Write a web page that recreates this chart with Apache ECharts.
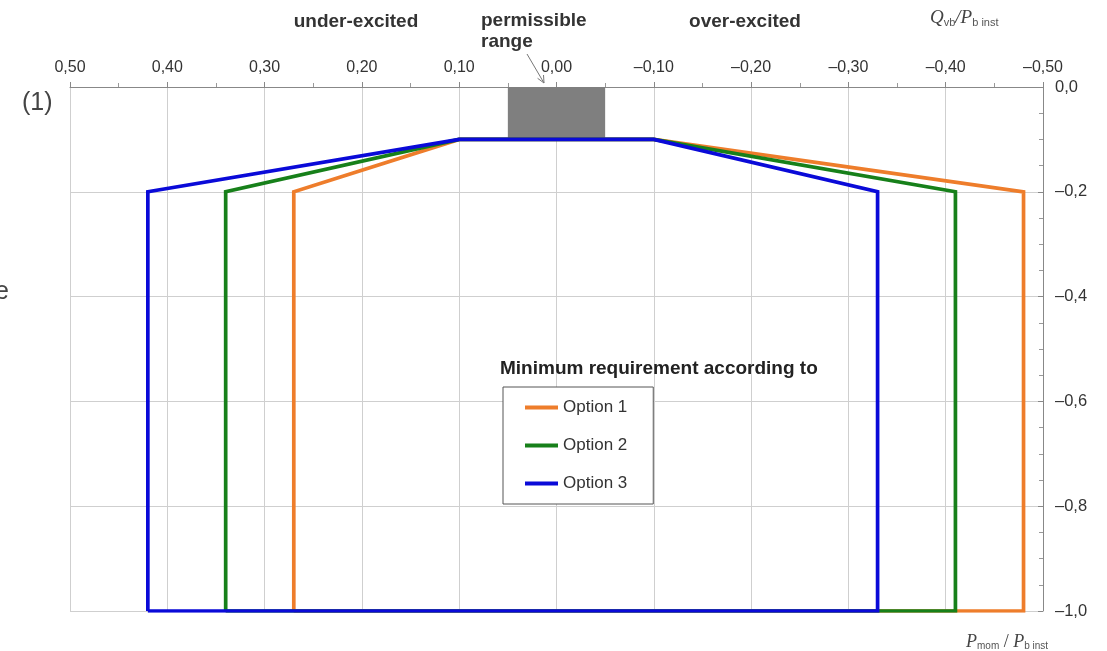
<!DOCTYPE html>
<html>
<head>
<meta charset="utf-8">
<script src="https://cdn.jsdelivr.net/npm/echarts@6/dist/echarts.min.js"></script>
<style>
html,body{margin:0;padding:0;background:#fff;}
#chart{width:1107px;height:651px;}
</style>
</head>
<body>
<div id="chart"></div>
<script>
// ---- data (Q/P on x, P_mom/P_b inst on y) ----
var seriesNames = ['Option 1', 'Option 2', 'Option 3'];
var option1 = [[0.27, -1.0], [0.27, -0.2], [0.10, -0.1], [-0.10, -0.1], [-0.48, -0.2], [-0.48, -1.0], [0.27, -1.0]];
var option2 = [[0.34, -1.0], [0.34, -0.2], [0.10, -0.1], [-0.10, -0.1], [-0.41, -0.2], [-0.41, -1.0], [0.34, -1.0]];
var option3 = [[0.42, -1.0], [0.42, -0.2], [0.10, -0.1], [-0.10, -0.1], [-0.33, -0.2], [-0.33, -1.0], [0.42, -1.0]];
var permissibleRange = [[0.05, 0.0], [-0.05, -0.1]];
var xRange = [-0.5, 0.5];
var yRange = [-1.0, 0.0];
var seriesColors = ['#ee7d2b', '#17801a', '#0a0ad8'];

function fmt(v, d) {
  var s = Math.abs(v) < 1e-9 ? (0).toFixed(d) : v.toFixed(d);
  return s.replace('.', ',').replace('-', '\u2013');
}

var font = '"Liberation Sans", Arial, sans-serif';
var chart = echarts.init(document.getElementById('chart'), null, {renderer: 'canvas'});

var allData = [option1, option2, option3];
var series = allData.map(function (d, i) {
  return {
    name: seriesNames[i],
    type: 'line',
    data: d,
    symbol: 'none',
    lineStyle: {color: seriesColors[i], width: 3.7, join: 'miter', cap: 'butt'},
    itemStyle: {color: seriesColors[i]},
    z: 3 + i,
    animation: false
  };
});
series.unshift({
  name: 'range',
  type: 'line',
  data: [],
  symbol: 'none',
  z: 2,
  animation: false,
  markArea: {
    silent: true,
    itemStyle: {color: '#7f7f7f'},
    data: [[{coord: permissibleRange[0]}, {coord: permissibleRange[1]}]]
  }
});

chart.setOption({
  animation: false,
  backgroundColor: '#fff',
  grid: {left: 70, right: 64, top: 87, bottom: 40, containLabel: false},
  xAxis: {
    type: 'value',
    position: 'top',
    inverse: true,
    min: xRange[0],
    max: xRange[1],
    interval: 0.1,
    axisLine: {show: true, onZero: false, lineStyle: {color: '#888', width: 1}},
    axisTick: {show: true, inside: false, length: 5, lineStyle: {color: '#888'}},
    minorTick: {show: true, splitNumber: 2, length: 4, lineStyle: {color: '#999'}},
    splitLine: {show: true, lineStyle: {color: '#cfcfcf', width: 1}},
    axisLabel: {
      color: '#333', fontSize: 16, fontFamily: font, margin: 11,
      formatter: function (v) { return fmt(v, 2); }
    }
  },
  yAxis: {
    type: 'value',
    position: 'right',
    min: yRange[0],
    max: yRange[1],
    interval: 0.2,
    axisLine: {show: true, onZero: false, lineStyle: {color: '#888', width: 1}},
    axisTick: {show: true, inside: true, length: 5, lineStyle: {color: '#888'}},
    minorTick: {show: true, splitNumber: 4, length: 4, lineStyle: {color: '#999'}},
    splitLine: {show: true, lineStyle: {color: '#cfcfcf', width: 1}},
    axisLabel: {
      color: '#333', fontSize: 16.5, fontFamily: font, margin: 12,
      formatter: function (v) { return fmt(v, 1); }
    }
  },
  legend: {
    show: true,
    data: seriesNames,
    orient: 'vertical',
    left: 503,
    top: 387,
    icon: 'rect',
    itemWidth: 33,
    itemHeight: 4,
    itemGap: 21,
    padding: [12, 26, 12, 22],
    borderColor: '#555',
    borderWidth: 1,
    backgroundColor: '#fff',
    textStyle: {color: '#333', fontSize: 17, fontFamily: font}
  },
  graphic: [
    {type: 'text', x: 500, y: 369, z: 10,
      style: {text: 'Minimum requirement according to', font: 'bold 19px ' + font, fill: '#222', verticalAlign: 'middle'}},
    {type: 'text', x: 356, y: 22, z: 10,
      style: {text: 'under-excited', font: 'bold 19px ' + font, fill: '#333', align: 'center', verticalAlign: 'middle'}},
    {type: 'text', x: 481, y: 21, z: 10,
      style: {text: 'permissible', font: 'bold 19px ' + font, fill: '#333', align: 'left', verticalAlign: 'middle'}},
    {type: 'text', x: 481, y: 42, z: 10,
      style: {text: 'range', font: 'bold 19px ' + font, fill: '#333', align: 'left', verticalAlign: 'middle'}},
    {type: 'text', x: 745, y: 22, z: 10,
      style: {text: 'over-excited', font: 'bold 19px ' + font, fill: '#333', align: 'center', verticalAlign: 'middle'}},
    {type: 'line', z: 10, shape: {x1: 527, y1: 54, x2: 544, y2: 83}, style: {stroke: '#777', lineWidth: 1}},
    {type: 'polyline', z: 10, shape: {points: [[543.5, 75], [544, 83], [537.6, 78.3]]}, style: {stroke: '#777', lineWidth: 1, fill: null}},
    {type: 'text', x: 930, y: 18, z: 10,
      style: {
        text: '{i|Q}{s|vb}{i|/P}{s|b inst}',
        verticalAlign: 'middle',
        rich: {
          i: {font: 'italic 19px "Liberation Serif", "DejaVu Serif", serif', fill: '#444'},
          s: {font: '11px ' + font, fill: '#555', padding: [9, 0, 0, 0]}
        }
      }},
    {type: 'text', x: 966, y: 642, z: 10,
      style: {
        text: '{i|P}{s|mom}{n| / }{i|P}{s|b inst}',
        verticalAlign: 'middle',
        rich: {
          i: {font: 'italic 18px "Liberation Serif", "DejaVu Serif", serif', fill: '#444'},
          n: {font: '18px "Liberation Serif", serif', fill: '#444'},
          s: {font: '10px ' + font, fill: '#555', padding: [8, 0, 0, 0]}
        }
      }},
    {type: 'text', x: 22, y: 103, z: 10,
      style: {text: '(1)', font: '25px ' + font, fill: '#444', verticalAlign: 'middle'}},
    {type: 'text', x: -5, y: 292, z: 10,
      style: {text: 'e', font: '25px ' + font, fill: '#444', verticalAlign: 'middle'}}
  ],
  series: series
});
</script>
</body>
</html>
